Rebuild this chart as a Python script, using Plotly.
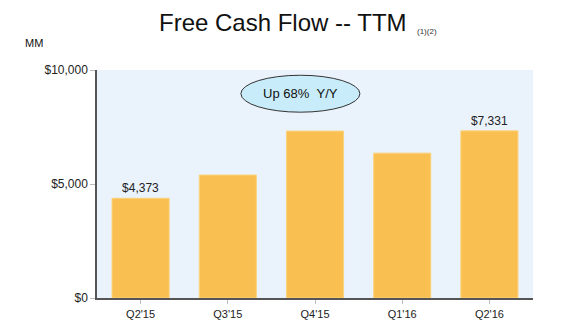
import plotly.graph_objects as go

# Trailing-twelve-month free cash flow, $ millions
quarters = ["Q2'15", "Q3'15", "Q4'15", "Q1'16", "Q2'16"]
fcf_ttm = [4373, 5393, 7320, 6354, 7331]
value_labels = ["$4,373", "", "", "", "$7,331"]

y_tick_vals = [0, 5000, 10000]
y_tick_text = ["$0", "$5,000", "$10,000"]

FONT = "Liberation Sans, Arial, sans-serif"

# plot-area geometry (pixels) used to place the free-floating labels
W, H = 580, 327
L, R, T, B = 97, 47, 70, 29
PW, PH = W - L - R, H - T - B


def px_x(x):
    return (x - L) / PW


def px_y(y):
    return (H - B - y) / PH


fig = go.Figure()
fig.add_trace(go.Bar(
    x=quarters,
    y=fcf_ttm,
    text=value_labels,
    textposition="outside",
    textfont=dict(size=12, color="#222222", family=FONT),
    marker=dict(color="#F9C051", line=dict(color="#FBD27E", width=1)),
    cliponaxis=False,
    hoverinfo="skip",
))

fig.update_layout(
    width=W,
    height=H,
    margin=dict(l=L, r=R, t=T, b=B),
    paper_bgcolor="white",
    plot_bgcolor="#EAF2FC",
    bargap=0.345,
    showlegend=False,
    font=dict(family=FONT, color="#222222"),
    uniformtext=dict(minsize=12, mode="show"),
)

fig.update_xaxes(
    showline=True, linecolor="#555555", linewidth=1.5,
    ticks="outside", ticklen=4, tickcolor="#BBBBBB",
    ticklabelstandoff=1,
    tickfont=dict(size=11, color="#222222"),
    showgrid=False, fixedrange=True, automargin=False,
)
fig.update_yaxes(
    range=[0, 10000],
    tickvals=y_tick_vals, ticktext=y_tick_text,
    showline=True, linecolor="#555555", linewidth=1.5,
    ticks="outside", ticklen=5, tickcolor="#BBBBBB",
    tickfont=dict(size=12, color="#222222"),
    showgrid=False, zeroline=False, fixedrange=True, automargin=False,
)

# Growth callout
fig.add_shape(
    type="circle", xref="paper", yref="y",
    x0=0.330, x1=0.603, y0=8150, y1=9770,
    fillcolor="#C8ECFA", line=dict(color="#333333", width=1),
)
fig.add_annotation(
    xref="paper", yref="y", x=0.4665, y=8960,
    text="Up 68%\u00a0\u00a0Y/Y", showarrow=False,
    font=dict(size=13, color="#111111", family=FONT),
)

# Title with footnote markers
fig.add_annotation(
    xref="paper", yref="paper", x=px_x(283), y=px_y(23),
    xanchor="center", yanchor="middle",
    text="Free Cash Flow -- TTM", showarrow=False,
    font=dict(size=24, color="#111111", family=FONT),
)
fig.add_annotation(
    xref="paper", yref="paper", x=px_x(426.5), y=px_y(31),
    xanchor="center", yanchor="middle",
    text="(1)(2)", showarrow=False,
    font=dict(size=8, color="#333333", family=FONT),
)
fig.add_annotation(
    xref="paper", yref="paper", x=px_x(33.5), y=px_y(43),
    xanchor="center", yanchor="middle",
    text="MM", showarrow=False,
    font=dict(size=11, color="#111111", family=FONT),
)

fig.write_html("out.html")
